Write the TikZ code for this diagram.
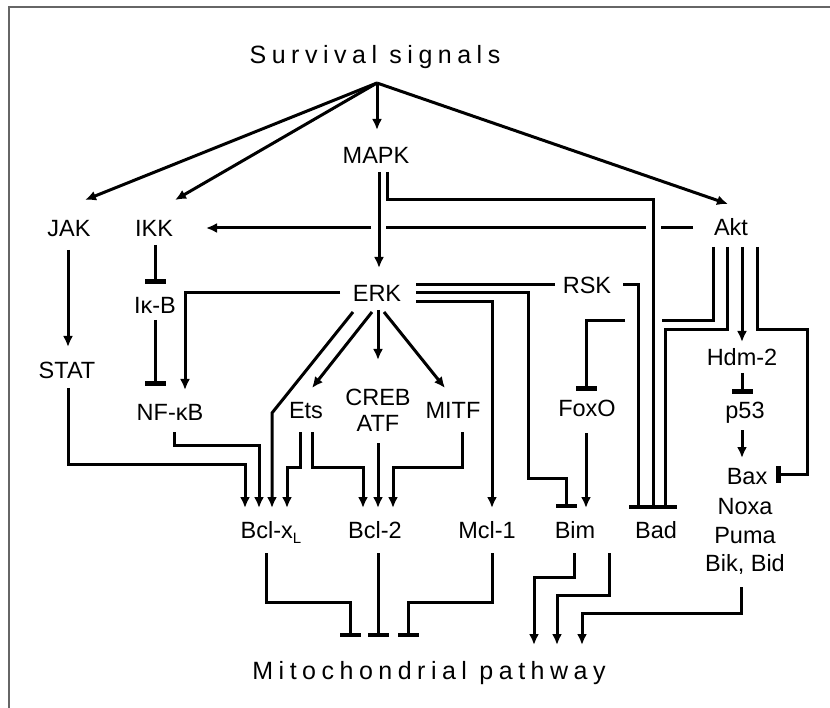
\documentclass[tikz,border=0pt]{standalone}
\usepackage{fontspec}
\setmainfont{Liberation Sans}
\usetikzlibrary{arrows.meta}
\begin{document}
\begin{tikzpicture}[x=1pt,y=-1pt,
  lbl/.style={font=\fontsize{23.5}{26}\selectfont, inner sep=0pt, anchor=base},
  ttl/.style={font=\fontsize{25}{28}\selectfont\addfontfeature{LetterSpace=22}, inner sep=0pt, anchor=base},
  conn/.style={line width=3pt, line join=miter},
  arr/.style={conn, -{Latex[length=11pt,width=10pt]}},
  inh/.style={conn, -{Bar[width=21pt,line width=4.5pt]}},
  vinh/.style={conn, -{Bar[width=17pt,line width=4.5pt]}},
]
\useasboundingbox (0,0) rectangle (830,708);
\fill[white] (0,0) rectangle (830,708);
\draw[line width=2pt, black!60] (9,712) -- (9,7) -- (834,7);

% labels
\node[ttl] (surv) at (375,64) {Survival signals};
\node[ttl] (mito) at (429,679) {Mitochondrial pathway};
\node[lbl] (mapk) at (376,163.4) {MAPK};
\node[lbl] (jak) at (69,236.4) {JAK};
\node[lbl] (ikk) at (154,236.4) {IKK};
\node[lbl] (akt) at (731,235.4) {Akt};
\node[lbl] (erk) at (377,301.4) {ERK};
\node[lbl] (rsk) at (587,293.4) {RSK};
\node[lbl] (ikb) at (155,313.4) {Iκ-B};
\node[lbl] (stat) at (67,378.4) {STAT};
\node[lbl] (hdm) at (742,365.4) {Hdm-2};
\node[lbl] (p53) at (745,418.4) {p53};
\node[lbl] (nfkb) at (170,420.4) {NF-κB};
\node[lbl] (ets) at (306,418.4) {Ets};
\node[lbl] (creb) at (378,405.4) {CREB};
\node[lbl] (atf) at (378,431.4) {ATF};
\node[lbl] (mitf) at (453,418.4) {MITF};
\node[lbl] (foxo) at (587,416.4) {FoxO};
\node[lbl] (bax) at (747,484.4) {Bax};
\node[lbl] (noxa) at (745,514.4) {Noxa};
\node[lbl] (puma) at (745,543.4) {Puma};
\node[lbl] (bikbid) at (745,571.4) {Bik, Bid};
\node[lbl] (bclxl) at (271,538.4) {Bcl-x\raisebox{-5pt}{\fontsize{15}{15}\selectfont L}};
\node[lbl] (bcl2) at (375,538.4) {Bcl-2};
\node[lbl] (mcl) at (487,538.4) {Mcl-1};
\node[lbl] (bim) at (575,538.4) {Bim};
\node[lbl] (bad) at (656,538.4) {Bad};

% connector end points
\coordinate (apex) at (377,83);
\coordinate (jak-in) at (85,200);
\coordinate (ikk-in) at (175,200);
\coordinate (mapk-in) at (377,130);
\coordinate (akt-in) at (728,204);
\coordinate (mapk-s1) at (379,172);
\coordinate (erk-n) at (379,268);
\coordinate (mapk-s2) at (387,172);
\coordinate (bad-n2) at (653,505);
\coordinate (akt-w) at (693,228);
\coordinate (ikk-e) at (206,228);
\coordinate (jak-s) at (68,250);
\coordinate (stat-n) at (68,347);
\coordinate (ikk-s) at (155,245);
\coordinate (ikb-n) at (155,284);
\coordinate (ikb-s) at (155,320);
\coordinate (nfkb-n) at (155,386);
\coordinate (erk-w) at (340,293);
\coordinate (nfkb-ne) at (185,390);
\coordinate (erk-sw) at (353,312);
\coordinate (bclxl-n3) at (272,508);
\coordinate (erk-s1) at (372,312);
\coordinate (ets-n) at (312,388);
\coordinate (erk-s2) at (378,310);
\coordinate (creb-n) at (378,360);
\coordinate (erk-s3) at (384,312);
\coordinate (mitf-n) at (445,388);
\coordinate (erk-e1) at (416,285);
\coordinate (rsk-w) at (555,285);
\coordinate (erk-e2) at (416,293);
\coordinate (bim-n1) at (566,508);
\coordinate (erk-e3) at (416,302);
\coordinate (mcl-n) at (492,508);
\coordinate (rsk-e) at (623,285);
\coordinate (bad-n1) at (638,505);
\coordinate (akt-s1) at (713,247);
\coordinate (foxo-n) at (586,391);
\coordinate (akt-s2) at (727,247);
\coordinate (bad-n3) at (665,505);
\coordinate (akt-s3) at (742,247);
\coordinate (hdm-n) at (742,342);
\coordinate (akt-s4) at (757,247);
\coordinate (bax-e) at (776,474);
\coordinate (hdm-s) at (742,373);
\coordinate (p53-n) at (742,394);
\coordinate (p53-s) at (742,430);
\coordinate (bax-n) at (742,458);
\coordinate (foxo-s) at (586,433);
\coordinate (bim-n2) at (586,508);
\coordinate (stat-s) at (68,388);
\coordinate (bclxl-n1) at (245,508);
\coordinate (nfkb-s) at (174,432);
\coordinate (bclxl-n2) at (259,508);
\coordinate (ets-s1) at (300,432);
\coordinate (bclxl-n4) at (287,508);
\coordinate (ets-s2) at (312,432);
\coordinate (bcl2-n1) at (363,508);
\coordinate (atf-s) at (378,443);
\coordinate (bcl2-n2) at (378,508);
\coordinate (mitf-s) at (462,432);
\coordinate (bcl2-n3) at (393,508);
\coordinate (bclxl-s) at (266,553);
\coordinate (mito-n1) at (350,637);
\coordinate (bcl2-s) at (378,553);
\coordinate (mito-n2) at (378,637);
\coordinate (mcl-s) at (492,553);
\coordinate (mito-n3) at (408,637);
\coordinate (bim-s1) at (574,553);
\coordinate (mito-n4) at (534,645);
\coordinate (bim-s2) at (609,553);
\coordinate (mito-n5) at (557,645);
\coordinate (bik-s) at (741,587);
\coordinate (mito-n6) at (582,645);
\coordinate (badbar-l) at (629,507);
\coordinate (badbar-r) at (677,507);

% survival signals fan
\draw[arr] (apex) -- (jak-in);
\draw[arr] (apex) -- (ikk-in);
\draw[arr] (apex) -- (mapk-in);
\draw[arr] (apex) -- (akt-in);

% MAPK
\draw[arr] (mapk-s1) -- (erk-n);
\draw[conn] (mapk-s2) |- (653,200) -- (bad-n2);
% Akt -> IKK with crossing gaps
\draw[arr] (akt-w) -- (661,228) (646,228) -- (386,228) (371,228) -- (ikk-e);

% left column
\draw[arr] (jak-s) -- (stat-n);
\draw[inh] (ikk-s) -- (ikb-n);
\draw[inh] (ikb-s) -- (nfkb-n);

% ERK outputs
\draw[arr] (erk-w) -| (nfkb-ne);
\draw[arr] (erk-sw) -- (272,413) -- (bclxl-n3);
\draw[arr] (erk-s1) -- (ets-n);
\draw[arr] (erk-s2) -- (creb-n);
\draw[arr] (erk-s3) -- (mitf-n);
\draw[conn] (erk-e1) -- (rsk-w);
\draw[inh] (erk-e2) -- (528,293) -- (528,478) -- (566,478) -- (bim-n1);
\draw[arr] (erk-e3) -| (mcl-n);
\draw[conn] (rsk-e) -| (bad-n1);

% Akt outputs
\draw[inh] (akt-s1) -- (713,321) -- (662,321) (625,321) -- (586,321) -- (foxo-n);
\draw[conn] (akt-s2) -- (727,330) -- (665,330) -- (bad-n3);
\draw[arr] (akt-s3) -- (hdm-n);
\draw[vinh] (akt-s4) -- (757,330) -- (807,330) -- (807,474) -- (bax-e);
\draw[inh] (hdm-s) -- (p53-n);
\draw[arr] (p53-s) -- (bax-n);
\draw[arr] (foxo-s) -- (bim-n2);
\draw[line width=4.5pt] (badbar-l) -- (badbar-r);

% into Bcl family
\draw[arr] (stat-s) -- (68,464) -| (bclxl-n1);
\draw[arr] (nfkb-s) -- (174,445) -| (bclxl-n2);
\draw[arr] (ets-s1) -- (300,467) -| (bclxl-n4);
\draw[arr] (ets-s2) -- (312,467) -| (bcl2-n1);
\draw[arr] (atf-s) -- (bcl2-n2);
\draw[arr] (mitf-s) -- (462,467) -| (bcl2-n3);

% to mitochondrial pathway
\draw[inh] (bclxl-s) -- (266,602) -| (mito-n1);
\draw[inh] (bcl2-s) -- (mito-n2);
\draw[inh] (mcl-s) -- (492,602) -| (mito-n3);
\draw[arr] (bim-s1) -- (574,577) -| (mito-n4);
\draw[arr] (bim-s2) -- (609,595) -| (mito-n5);
\draw[arr] (bik-s) -- (741,613) -| (mito-n6);
\end{tikzpicture}
\end{document}
